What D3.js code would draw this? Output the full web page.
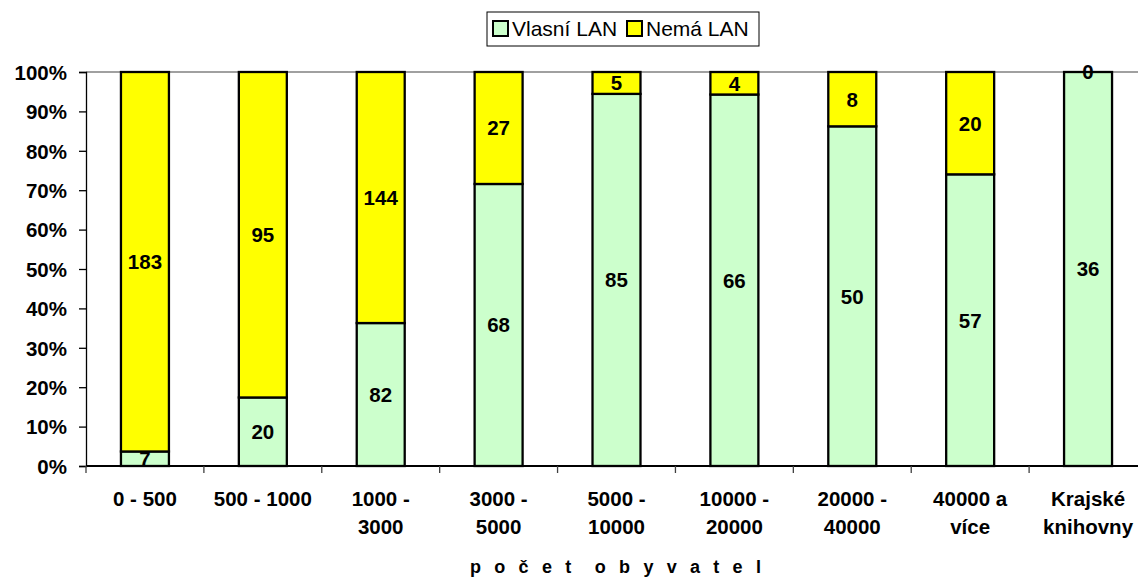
<!DOCTYPE html>
<html>
<head>
<meta charset="utf-8">
<script src="https://cdn.jsdelivr.net/npm/d3@7"></script>
<style>
  body { margin: 0; background: #fff; }
  svg { display: block; font-family: Arial, "Liberation Sans", sans-serif; }
</style>
</head>
<body>
<div id="chart"></div>
<script>
var width = 1138;
var height = 578;

// data
var categories = ["0 - 500", "500 - 1000", "1000 - 3000", "3000 - 5000", "5000 - 10000",
                  "10000 - 20000", "20000 - 40000", "40000 a více", "Krajské knihovny"];
var catLines = [["0 - 500"], ["500 - 1000"], ["1000 -", "3000"], ["3000 -", "5000"], ["5000 -", "10000"],
                ["10000 -", "20000"], ["20000 -", "40000"], ["40000 a", "více"], ["Krajské", "knihovny"]];
var vlastni = [7, 20, 82, 68, 85, 66, 50, 57, 36];
var nema = [183, 95, 144, 27, 5, 4, 8, 20, 0];
var seriesNames = ["Vlasní LAN", "Nemá LAN"];
var seriesColors = ["#ccffcc", "#ffff00"];
var yTicks = [0, 0.1, 0.2, 0.3, 0.4, 0.5, 0.6, 0.7, 0.8, 0.9, 1];
var xTitle = "počet obyvatel";

document.addEventListener("DOMContentLoaded", function() {

    var margin = {top: 72, left: 86, bottom: 112};
    var plotRight = 1147; // plot area runs past the window edge

    var svg = d3.select("#chart").append("svg")
        .attr("width", width)
        .attr("height", height);

    var pad = 0.593;
    var x = d3.scaleBand()
        .domain(categories)
        .range([margin.left, plotRight])
        .paddingInner(pad)
        .paddingOuter(pad / 2);

    var y = d3.scaleLinear()
        .domain([0, 1])
        .range([height - margin.bottom, margin.top]);

    // stacked shares
    var rows = categories.map(function(c, i) {
        var tot = vlastni[i] + nema[i];
        return {cat: c, lines: catLines[i], v: vlastni[i], n: nema[i], pv: vlastni[i] / tot, pn: nema[i] / tot};
    });

    // plot area top border
    svg.append("line")
        .attr("x1", margin.left).attr("x2", plotRight)
        .attr("y1", y(1)).attr("y2", y(1))
        .attr("stroke", "#808080").attr("stroke-width", 1.3);

    // bars
    var g = svg.append("g");
    g.selectAll("rect.v")
        .data(rows).enter().append("rect")
        .attr("class", "v")
        .attr("x", d => x(d.cat))
        .attr("width", x.bandwidth())
        .attr("y", d => y(d.pv))
        .attr("height", d => y(0) - y(d.pv))
        .attr("fill", seriesColors[0])
        .attr("stroke", "#000").attr("stroke-width", 2.3);

    g.selectAll("rect.n")
        .data(rows.filter(d => d.n > 0)).enter().append("rect")
        .attr("class", "n")
        .attr("x", d => x(d.cat))
        .attr("width", x.bandwidth())
        .attr("y", d => y(1))
        .attr("height", d => y(d.pv) - y(1))
        .attr("fill", seriesColors[1])
        .attr("stroke", "#000").attr("stroke-width", 2.3);

    // y axis
    var yAxis = svg.append("g")
        .attr("transform", "translate(" + margin.left + ",0)")
        .call(d3.axisLeft(y).tickValues(yTicks).tickFormat(d3.format(".0%")).tickSize(7).tickPadding(12));
    yAxis.select(".domain").attr("stroke", "#000").attr("stroke-width", 1.3);
    yAxis.selectAll(".tick line").attr("stroke", "#000").attr("stroke-width", 1.3);
    yAxis.selectAll("text")
        .attr("fill", "#000")
        .style("font-size", "20.5px")
        .style("font-weight", "bold")
        .attr("dy", "0.36em");

    // x axis: line, ticks between categories
    var step = x.step();
    var bounds = d3.range(categories.length + 1).map(i => margin.left + i * step);
    svg.append("line")
        .attr("x1", margin.left).attr("x2", plotRight)
        .attr("y1", y(0)).attr("y2", y(0))
        .attr("stroke", "#000").attr("stroke-width", 2);
    svg.selectAll("line.xt")
        .data(bounds).enter().append("line")
        .attr("class", "xt")
        .attr("x1", d => d).attr("x2", d => d)
        .attr("y1", y(0)).attr("y2", y(0) + 7)
        .attr("stroke", "#404040").attr("stroke-width", 1.3);

    // category labels
    var cl = svg.selectAll("text.cat")
        .data(rows).enter().append("text")
        .attr("class", "cat")
        .attr("text-anchor", "middle")
        .attr("x", d => x(d.cat) + x.bandwidth() / 2)
        .attr("y", y(0) + 40)
        .style("font-size", "20.5px")
        .style("font-weight", "bold");
    cl.selectAll("tspan")
        .data(d => d.lines.map(t => ({t: t, x: x(d.cat) + x.bandwidth() / 2})))
        .enter().append("tspan")
        .attr("x", d => d.x)
        .attr("dy", (d, i) => i == 0 ? 0 : 28)
        .text(d => d.t);

    // data labels
    var labels = [];
    rows.forEach(function(d) {
        labels.push({cat: d.cat, val: d.v, mid: d.pv / 2});
        labels.push({cat: d.cat, val: d.n, mid: d.pv + d.pn / 2});
    });
    svg.selectAll("text.lab")
        .data(labels).enter().append("text")
        .attr("class", "lab")
        .attr("text-anchor", "middle")
        .attr("x", d => x(d.cat) + x.bandwidth() / 2)
        .attr("y", d => y(d.mid))
        .attr("dy", "0.36em")
        .style("font-size", "20.5px")
        .style("font-weight", "bold")
        .text(d => d.val);

    // axis title
    svg.append("text")
        .attr("x", 470)
        .attr("y", 573)
        .style("font-size", "18px")
        .style("font-weight", "bold")
        .style("letter-spacing", "13.3px")
        .style("word-spacing", "-8px")
        .text(xTitle);

    // legend
    var lg = svg.append("g");
    lg.append("rect")
        .attr("x", 487).attr("y", 12)
        .attr("width", 272).attr("height", 34)
        .attr("fill", "#fff").attr("stroke", "#000").attr("stroke-width", 1);
    var legX = [493, 627];
    seriesNames.forEach(function(s, i) {
        lg.append("rect")
            .attr("x", legX[i]).attr("y", 21)
            .attr("width", 15).attr("height", 15)
            .attr("fill", seriesColors[i]).attr("stroke", "#000").attr("stroke-width", 2);
        lg.append("text")
            .attr("x", legX[i] + 19).attr("y", 36)
            .style("font-size", "21px")
            .text(s);
    });
});
</script>
</body>
</html>
